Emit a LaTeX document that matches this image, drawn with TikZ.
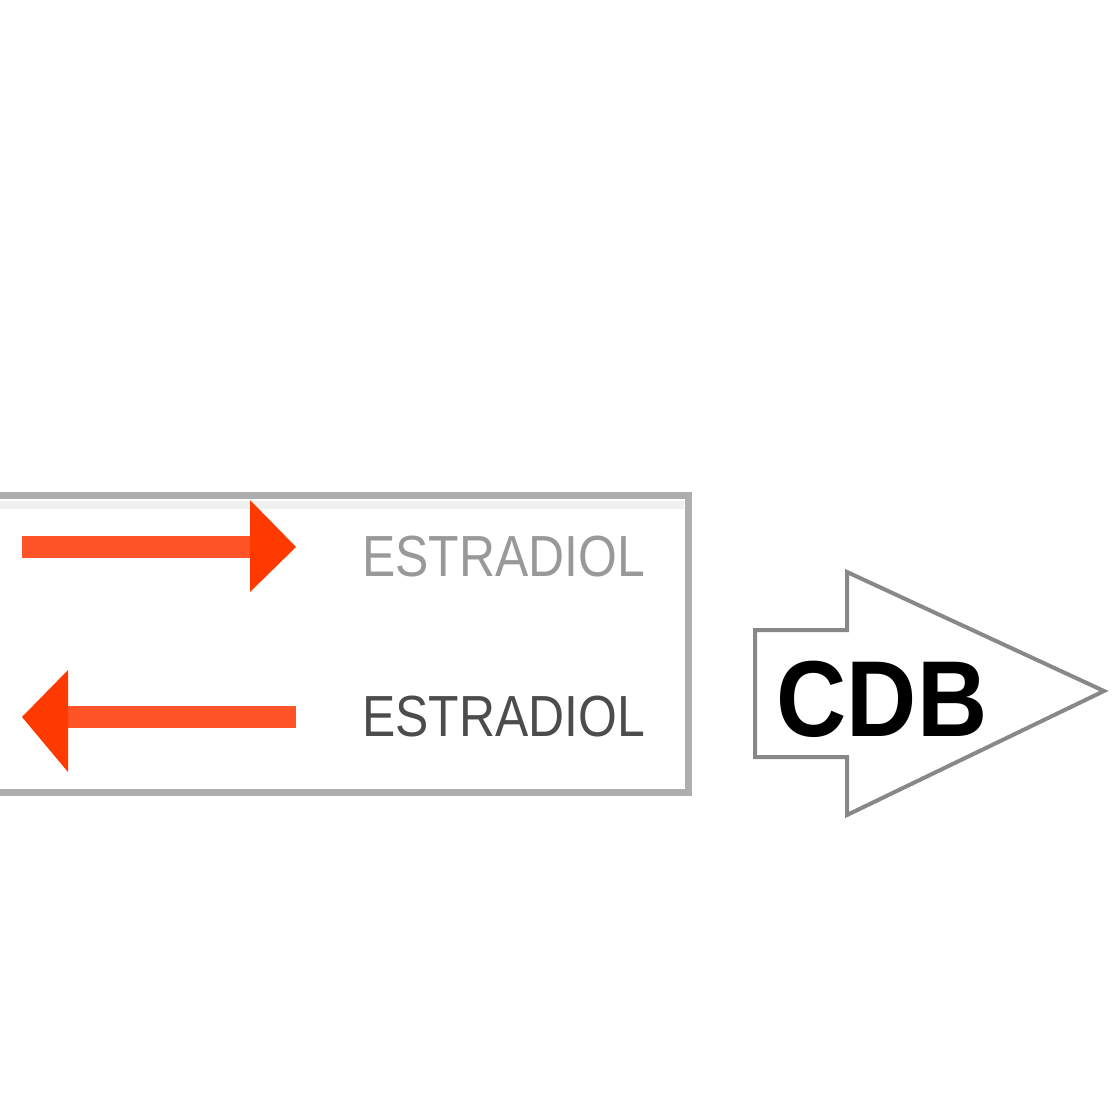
\documentclass[tikz,border=0pt]{standalone}
\usepackage{fontspec}
\setmainfont{Liberation Sans}
\definecolor{boxgray}{HTML}{AEAEAE}
\definecolor{shaftred}{HTML}{FF5328}
\definecolor{headred}{HTML}{FF3A00}
\definecolor{outlinegray}{HTML}{888888}
\begin{document}
\begin{tikzpicture}[x=1pt,y=-1pt,
  lbl/.style={inner sep=0pt,anchor=west,xscale=0.86,font=\fontsize{58}{58}\selectfont},
  shaft/.style={draw=shaftred,line width=22pt},
  headfill/.style={fill=headred}]
\useasboundingbox (0,0) rectangle (1116,1116);
% legend box (open at the left)
\draw[boxgray,line width=7pt] (0,495) -- (688,495) -- (688,792) -- (0,792);
\draw[black!6,line width=8pt] (0,505) -- (684,505);
% upper arrow (right)
\coordinate (a1) at (22,547);
\coordinate (a1t) at (296,547);
\draw[shaft] (a1) -- (252,547);
\fill[headfill] (250,500) -- (a1t) -- (250,592) -- cycle;
% lower arrow (left)
\coordinate (b1) at (296,717);
\coordinate (b1t) at (22,717);
\draw[shaft] (b1) -- (66,717);
\fill[headfill] (68,670) -- (b1t) -- (68,772) -- cycle;
% labels
\node[lbl,text=black!40] (t1) at (362,557) {ESTRADIOL};
\node[lbl,text=black!70] (t2) at (362,717) {ESTRADIOL};
% CDB block arrow
\draw[outlinegray,line width=4pt,line join=miter]
  (755,630) -- (847,630) -- (847,572) -- (1104,691) -- (847,815) -- (847,757) -- (755,757) -- cycle;
\node[inner sep=0pt,xscale=0.9,font=\bfseries\fontsize{108}{108}\selectfont] (cdb) at (882,699) {CDB};
\end{tikzpicture}
\end{document}
